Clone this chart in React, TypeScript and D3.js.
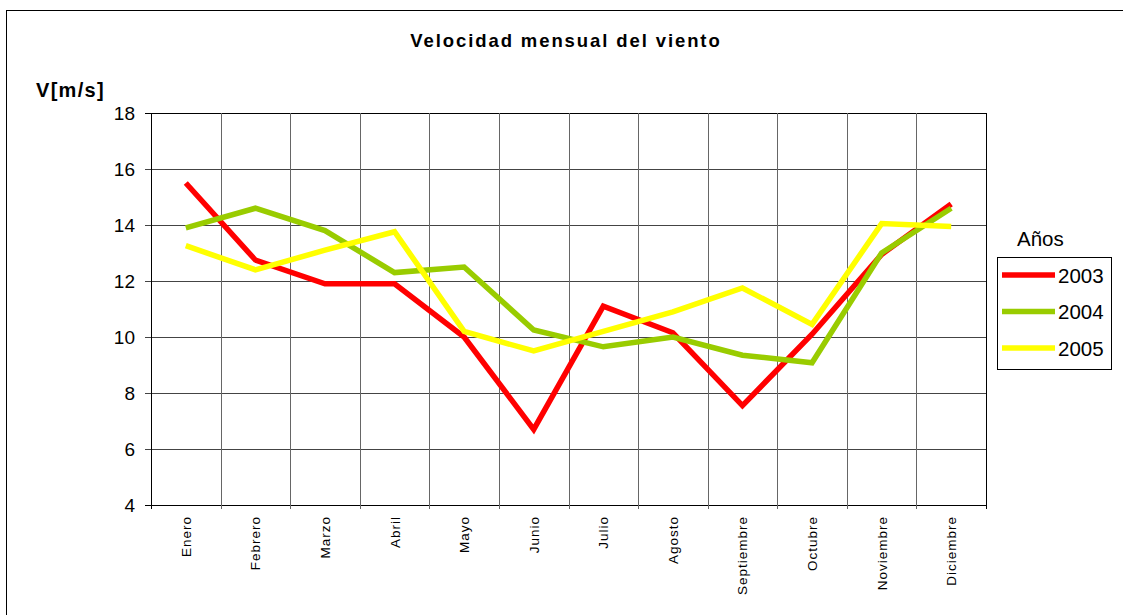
import React from "react";
import * as d3 from "d3";

const months = ["Enero","Febrero","Marzo","Abril","Mayo","Junio","Julio","Agosto","Septiembre","Octubre","Noviembre","Diciembre"];
const v2003 = [15.5, 12.75, 11.9, 11.9, 10.0, 6.7, 11.1, 10.15, 7.55, 10.1, 12.95, 14.75];
const v2004 = [13.9, 14.6, 13.8, 12.3, 12.5, 10.25, 9.65, 10.0, 9.35, 9.08, 13.0, 14.6];
const v2005 = [13.26, 12.4, 13.1, 13.76, 10.2, 9.5, 10.2, 10.9, 11.75, 10.45, 14.05, 13.95];
const yTicks = [4, 6, 8, 10, 12, 14, 16, 18];
const seriesNames = ["2003", "2004", "2005"];
const seriesColors = ["#FF0000", "#99CC00", "#FFFF00"];

const font = "Arial, 'Liberation Sans', sans-serif";

export default function App() {
  const W = 1123, H = 615;
  const left = 151, right = 986, top = 113, bottom = 505;
  const x = d3.scaleBand().domain(months).range([left, right]).padding(0);
  const y = d3.scaleLinear().domain([4, 18]).range([bottom, top]);
  const line = d3.line<number>().x((_, i) => (x(months[i]) as number) + x.bandwidth() / 2).y(d => y(d));
  const series = [v2003, v2004, v2005];
  const boundaries = d3.range(months.length + 1).map(i => left + i * x.bandwidth());

  return (
    <svg width={W} height={H} style={{ position: "absolute", left: 0, top: 0, background: "#fff" }}>
      <rect x={0} y={0} width={W} height={H} fill="#fff" />
      <rect x={6.5} y={10.5} width={1130} height={620} fill="none" stroke="#000" strokeWidth={1} />
      <text x={566} y={47} textAnchor="middle" fontFamily={font} fontWeight="bold" fontSize={18.5} letterSpacing={1.9}>Velocidad mensual del viento</text>
      <text x={36} y={97} fontFamily={font} fontWeight="bold" fontSize={20} letterSpacing={1.3}>V[m/s]</text>
      {/* horizontal grid */}
      {yTicks.map(t => (
        <g key={t}>
          <line x1={145} x2={right} y1={Math.round(y(t)) + 0.5} y2={Math.round(y(t)) + 0.5} stroke={t === 4 || t === 18 ? "#000" : "#444"} strokeWidth={1} />
          <text x={135} y={y(t) + 6.5} textAnchor="end" fontFamily={font} fontSize={19}>{t}</text>
        </g>
      ))}
      {/* vertical grid */}
      {boundaries.map((bx, i) => (
        <line key={i} x1={Math.round(bx) + 0.5} x2={Math.round(bx) + 0.5} y1={top} y2={bottom + 4} stroke={i === 0 || i === months.length ? "#000" : "#666"} strokeWidth={1} />
      ))}
      {/* category labels */}
      {months.map(m => {
        const cx = (x(m) as number) + x.bandwidth() / 2;
        return (
          <text key={m} transform={`translate(${cx + 5},${516}) rotate(-90)`} textAnchor="end" fontFamily={font} fontSize={13.5} letterSpacing={1}>{m}</text>
        );
      })}
      {/* series */}
      {series.map((s, i) => (
        <path key={i} d={line(s) || ""} fill="none" stroke={seriesColors[i]} strokeWidth={5.5} strokeLinejoin="miter" />
      ))}
      {/* legend */}
      <text x={1017} y={246} fontFamily={font} fontSize={20.5}>Años</text>
      <rect x={997.5} y={257.5} width={114} height={112} fill="#fff" stroke="#000" strokeWidth={1} />
      {seriesNames.map((n, i) => (
        <g key={n}>
          <line x1={1002} x2={1055} y1={275 + i * 36.5} y2={275 + i * 36.5} stroke={seriesColors[i]} strokeWidth={5.5} />
          <text x={1058} y={282.5 + i * 36.5} fontFamily={font} fontSize={20.5}>{n}</text>
        </g>
      ))}
    </svg>
  );
}
